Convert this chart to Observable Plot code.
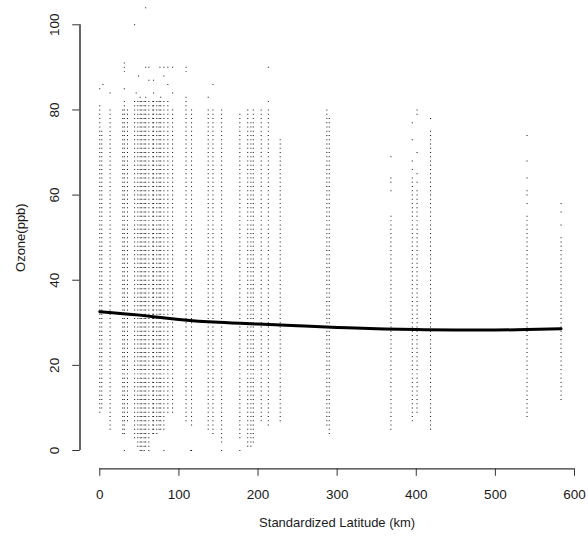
<!DOCTYPE html>
<html>
<head>
<meta charset="utf-8">
<script src="https://cdn.jsdelivr.net/npm/d3@7"></script>
<script src="https://cdn.jsdelivr.net/npm/@observablehq/plot@0.6"></script>
<style>
  html, body { margin: 0; padding: 0; background: #fff; }
  #chart svg { display: block; }
</style>
</head>
<body>
<div id="chart"></div>
<script>
// Tick labels
const xTicks = [0, 100, 200, 300, 400, 500, 600];
const yTicks = [0, 20, 40, 60, 80, 100];
const xTitle = "Standardized Latitude (km)";
const yTitle = "Ozone(ppb)";

// Station columns: [latitude (km), lowest ozone, highest ozone] - a dot at each integer ppb observed
const stationColumns = [
  [0, 9, 80], [2.5, 10, 75], [13, 5, 80], [29, 4, 80], [31, 4, 82], [35, 7, 80],
  [44, 3, 82], [48, 1, 82], [51, 0, 83], [53, 0, 82], [56, 0, 82], [58, 1, 83],
  [62, 0, 82], [67, 4, 82], [68, 4, 82], [72, 4, 82], [75, 5, 82], [77, 5, 83],
  [81, 5, 82], [86, 9, 82], [92, 9, 80], [109, 7, 83], [116, 6, 80], [137, 5, 80],
  [143, 4, 80], [154, 2, 80], [177, 3, 79], [187, 1, 80], [191, 1, 77], [194, 2, 80],
  [204, 7, 80], [213, 6, 80], [228, 7, 73], [287, 6, 80], [290, 4, 78], [368, 5, 55],
  [395, 7, 64], [401, 9, 61], [418, 5, 75], [540, 8, 55], [583, 12, 50]
];

// Isolated observations outside the dense column ranges: [latitude, ozone]
const isolatedPoints = [
  [31, 91], [31, 90], [31, 89], [31, 85], [58, 90], [62, 90], [76, 90], [81, 90],
  [86, 90], [92, 90], [109, 90], [109, 89], [49, 88], [81, 88], [62, 87], [68, 87],
  [4, 86], [86, 86], [13, 84], [46, 84], [68, 84], [92, 84], [0, 85], [0, 81],
  [44, 100], [58, 104], [213, 90], [213, 82], [143, 86], [137, 83],
  [368, 69], [368, 64], [368, 63], [368, 61], [395, 77], [395, 73], [395, 68], [395, 66],
  [401, 80], [401, 79], [401, 70], [401, 65], [401, 63], [418, 78],
  [540, 74], [540, 68], [540, 64], [540, 61], [540, 60], [540, 58],
  [583, 58], [583, 56], [583, 53],
  [116, 0], [154, 0], [177, 0], [31, 0], [81, 0], [115, 0]
];

// Smoothed fit line
const smoothLat = [0, 50, 100, 150, 200, 250, 300, 350, 400, 450, 500, 540, 583];
const smoothOzone = [32.6, 31.8, 30.8, 30.1, 29.7, 29.3, 28.9, 28.6, 28.4, 28.3, 28.3, 28.4, 28.6];

// Build tables
const points = [];
for (const [lat, lo, hi] of stationColumns) {
  for (let v = lo; v <= hi; v++) points.push({lat, ozone: v});
}
for (const [lat, v] of isolatedPoints) points.push({lat, ozone: v});
const smooth = smoothLat.map((lat, i) => ({lat, ozone: smoothOzone[i]}));

const ink = "#1a1a1a";
const axisInk = "#333";
const font = "Liberation Sans, Arial, Helvetica, sans-serif";
const x0 = xTicks[0], x1 = xTicks[xTicks.length - 1];
const y0 = yTicks[0], y1 = yTicks[yTicks.length - 1];

const chart = Plot.plot({
  width: 588,
  height: 543,
  marginLeft: 99, marginRight: 14, marginTop: 24, marginBottom: 93,
  style: {fontFamily: font, fontSize: "13px", color: ink, background: "#fff", overflow: "visible"},
  x: {type: "linear", domain: [x0, x1], range: [99.3, 574], axis: null},
  y: {type: "linear", domain: [y0, y1], range: [450, 24.3], axis: null},
  marks: [
    // data points (R pch ".")
    Plot.dot(points, {x: "lat", y: "ozone", symbol: "square", r: 0.56, fill: "#111", stroke: "none"}),
    // smooth line
    Plot.line(smooth, {x: "lat", y: "ozone", stroke: "#000", strokeWidth: 3, curve: "natural"}),
    // y axis: ticks + spine
    Plot.axisY({ticks: yTicks, anchor: "left", tickSize: 7.5, dx: -19.3, tickFormat: () => "", stroke: axisInk, strokeOpacity: 1, label: null}),
    Plot.ruleX([x0], {y1: y0, y2: y1, dx: -19.8, stroke: "#555", strokeWidth: 1.8}),
    Plot.text(yTicks, {x: () => x0, y: d => d, text: d => String(d), dx: -45, rotate: -90,
      textAnchor: "middle", lineAnchor: "middle", fontSize: 13.5, fill: ink}),
    // x axis: ticks + spine
    Plot.axisX({ticks: xTicks, anchor: "bottom", tickSize: 7.5, dy: 18.3, tickFormat: () => "", stroke: axisInk, strokeOpacity: 1, label: null}),
    Plot.ruleY([y0], {x1: x0, x2: x1, dy: 18.3, stroke: axisInk, strokeWidth: 1.2}),
    Plot.text(xTicks, {x: d => d, y: () => y0, text: d => String(d), dy: 44.5,
      textAnchor: "middle", lineAnchor: "middle", fontSize: 13.5, fill: ink}),
    // axis titles
    Plot.text([xTitle], {x: () => (x0 + x1) / 2, y: () => y0, text: d => d, dy: 72,
      textAnchor: "middle", lineAnchor: "middle", fontSize: 13, fill: ink}),
    Plot.text([yTitle], {x: () => x0, y: () => (y0 + y1) / 2, text: d => d, dx: -79, rotate: -90,
      textAnchor: "middle", lineAnchor: "middle", fontSize: 13, fill: ink})
  ]
});
document.getElementById("chart").appendChild(chart);
</script>
</body>
</html>
